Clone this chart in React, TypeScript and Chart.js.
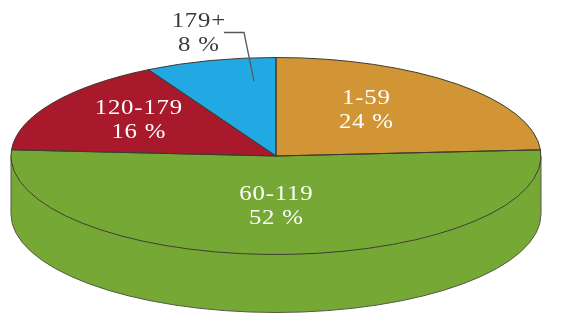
import React, { useEffect, useRef } from "react";
import { Chart, registerables } from "chart.js";

Chart.register(...registerables);

const categories = ["1-59", "60-119", "120-179", "179+"];
const shares = [24, 52, 16, 8];
const sliceColors = ["#D29536", "#76A836", "#A8192B", "#22A9E3"];
const labelColors = ["#FFFFFF", "#FFFFFF", "#FFFFFF", "#3A3A3A"];

// Layout of the drawn 3-D disc (not data)
const CX = 276;
const CY = 156;
const RX = 265;
const RY = 98.5;
const DEPTH = 58;
const EDGE = "#3B3B2E";
const labelCentres: [number, number][] = [
  [366, 110.5],
  [276, 206.5],
  [138.5, 120.5],
  [198.5, 33.5],
];
const LINE_GAP = 24.5;
const TRACKING = 0.7;
const TEXT_STRETCH = 1.18;

const disc3d = {
  id: "disc3d",
  beforeDatasetsDraw(chart: any) {
    const arcs = chart.getDatasetMeta(0).data;
    const ctx = chart.ctx as CanvasRenderingContext2D;
    // side wall, for the parts of slices that face the viewer
    arcs.forEach((arc: any, i: number) => {
      const a1 = Math.max(arc.startAngle, 0);
      const a2 = Math.min(arc.endAngle, Math.PI);
      if (a2 <= a1) return;
      ctx.save();
      ctx.beginPath();
      ctx.ellipse(CX, CY, RX, RY, 0, a1, a2);
      ctx.ellipse(CX, CY + DEPTH, RX, RY, 0, a2, a1, true);
      ctx.closePath();
      ctx.fillStyle = sliceColors[i];
      ctx.fill();
      ctx.beginPath();
      ctx.moveTo(CX + RX * Math.cos(a1), CY + RY * Math.sin(a1));
      ctx.lineTo(CX + RX * Math.cos(a1), CY + DEPTH + RY * Math.sin(a1));
      ctx.ellipse(CX, CY + DEPTH, RX, RY, 0, a1, a2);
      ctx.lineTo(CX + RX * Math.cos(a2), CY + RY * Math.sin(a2));
      ctx.strokeStyle = "#55584A";
      ctx.lineWidth = 1;
      ctx.stroke();
      ctx.restore();
    });
    // squash the library's circular pie into the top ellipse
    const first = arcs[0];
    ctx.save();
    ctx.translate(CX, CY);
    ctx.scale(RX / first.outerRadius, RY / first.outerRadius);
    ctx.translate(-first.x, -first.y);
  },
  afterDatasetsDraw(chart: any) {
    const ctx = chart.ctx as CanvasRenderingContext2D;
    ctx.restore();
    const arcs = chart.getDatasetMeta(0).data;
    arcs.forEach((arc: any) => {
      ctx.save();
      ctx.beginPath();
      ctx.moveTo(CX, CY);
      ctx.ellipse(CX, CY, RX, RY, 0, arc.startAngle, arc.endAngle);
      ctx.closePath();
      ctx.strokeStyle = EDGE;
      ctx.lineWidth = 1;
      ctx.lineJoin = "round";
      ctx.stroke();
      ctx.restore();
    });
    // leader for the outside label
    ctx.save();
    ctx.beginPath();
    ctx.moveTo(224, 32.5);
    ctx.lineTo(244, 32.5);
    ctx.lineTo(254, 81);
    ctx.strokeStyle = "#5A5A5A";
    ctx.lineWidth = 1.3;
    ctx.stroke();
    // text
    ctx.font = '21px "Liberation Serif"';
    (ctx as any).letterSpacing = `${TRACKING}px`;
    ctx.textAlign = "center";
    ctx.textBaseline = "middle";
    categories.forEach((name, i) => {
      const [x, y] = labelCentres[i];
      ctx.save();
      ctx.translate(x + TRACKING / 2, y);
      ctx.scale(TEXT_STRETCH, 1);
      ctx.fillStyle = labelColors[i];
      ctx.fillText(name, 0, -LINE_GAP / 2);
      ctx.fillText(`${shares[i]} %`, 0, LINE_GAP / 2);
      ctx.restore();
    });
    ctx.restore();
  },
};

export default function App() {
  const ref = useRef<HTMLCanvasElement>(null);
  useEffect(() => {
    const chart = new Chart(ref.current!, {
      type: "pie",
      data: {
        labels: categories,
        datasets: [
          {
            data: shares,
            backgroundColor: sliceColors,
            borderWidth: 0,
            clip: false,
          } as any,
        ],
      },
      options: {
        animation: false,
        responsive: false,
        plugins: { legend: { display: false }, tooltip: { enabled: false } },
      },
      plugins: [disc3d],
    });
    return () => chart.destroy();
  }, []);
  return (
    <div style={{ position: "absolute", left: 0, top: 0, width: 573, height: 320, background: "#fff" }}>
      <canvas ref={ref} width={573} height={320} style={{ display: "block" }} />
    </div>
  );
}
